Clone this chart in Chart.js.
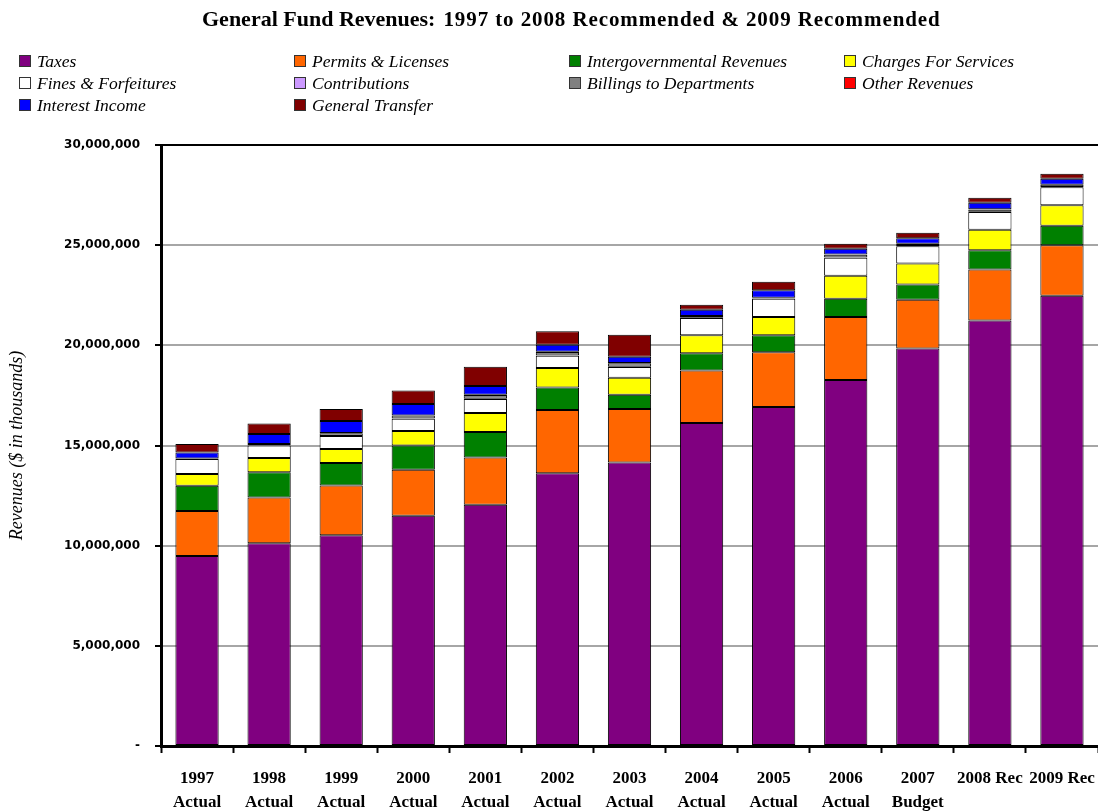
<!DOCTYPE html>
<html>
<head>
<meta charset="utf-8">
<title>General Fund Revenues</title>
<script src="https://cdn.jsdelivr.net/npm/chart.js@4.4.1/dist/chart.umd.min.js"></script>
<style>
  html, body { margin: 0; padding: 0; background: #fff; }
  #wrap { position: relative; width: 1098px; height: 811px; overflow: hidden; }
  #revChart { position: absolute; left: 0; top: 0; }
  #title {
    position: absolute; left: 202px; top: 6px;
    font-family: "Liberation Serif", serif; font-weight: bold; color: #000; white-space: nowrap;
  }
  #title .main { font-size: 22px; }
  #title .sub { font-size: 21px; letter-spacing: 0.9px; margin-left: 8px; }
  #legend {
    position: absolute; left: 19px; top: 50px;
    display: grid; grid-template-columns: 275px 275px 275px 240px; grid-auto-rows: 22px;
    font-family: "Liberation Serif", serif; font-style: italic; font-size: 17.5px; color: #000;
  }
  #legend .item { display: flex; align-items: center; white-space: nowrap; }
  #legend .box { width: 10px; height: 10px; border: 1px solid #333; margin-right: 6px; flex: none; }
</style>
</head>
<body>
<div id="wrap">
  <canvas id="revChart" width="1098" height="811"></canvas>
  <div id="title"><span class="main">General Fund Revenues:</span><span class="sub">1997 to 2008 Recommended &amp; 2009 Recommended</span></div>
  <div id="legend"></div>
</div>
<script>
// fiscal years on the x axis (second line under each year)
const years = [
  ['1997', 'Actual'], ['1998', 'Actual'], ['1999', 'Actual'], ['2000', 'Actual'],
  ['2001', 'Actual'], ['2002', 'Actual'], ['2003', 'Actual'], ['2004', 'Actual'],
  ['2005', 'Actual'], ['2006', 'Actual'], ['2007', 'Budget'], ['2008 Rec', ''], ['2009 Rec', '']
];

// revenues by source, $ in thousands
const taxes         = [9490000, 10120000, 10520000, 11490000, 12040000, 13620000, 14150000, 16120000, 16920000, 18270000, 19840000, 21240000, 22470000];
const permits       = [2240000, 2280000, 2480000, 2300000, 2360000, 3150000, 2670000, 2630000, 2730000, 3150000, 2430000, 2550000, 2520000];
const intergov      = [1260000, 1270000, 1130000, 1210000, 1270000, 1130000, 710000, 850000, 850000, 900000, 770000, 960000, 980000];
const charges       = [590000, 710000, 690000, 720000, 950000, 970000, 850000, 900000, 920000, 1150000, 1050000, 1020000, 1020000];
const fines         = [740000, 620000, 650000, 620000, 700000, 610000, 540000, 870000, 910000, 900000, 860000, 880000, 900000];
const contributions = [5000, 8000, 10000, 12000, 12000, 15000, 15000, 10000, 8000, 12000, 10000, 12000, 10000];
const billings      = [20000, 65000, 130000, 140000, 188000, 175000, 175000, 82000, 35000, 138000, 102000, 118000, 110000];
const otherRev      = [5000, 7000, 10000, 8000, 10000, 10000, 10000, 8000, 7000, 10000, 8000, 10000, 10000];
const interest      = [300000, 490000, 600000, 570000, 440000, 350000, 310000, 300000, 370000, 290000, 280000, 330000, 300000];
const transfer      = [420000, 530000, 600000, 670000, 960000, 670000, 1100000, 250000, 420000, 250000, 270000, 250000, 250000];

const yTicks = [0, 5000000, 10000000, 15000000, 20000000, 25000000, 30000000];

const series = [
  { label: 'Taxes', data: taxes, color: '#800080' },
  { label: 'Permits & Licenses', data: permits, color: '#FF6600' },
  { label: 'Intergovernmental Revenues', data: intergov, color: '#008000' },
  { label: 'Charges For Services', data: charges, color: '#FFFF00' },
  { label: 'Fines & Forfeitures', data: fines, color: '#FFFFFF' },
  { label: 'Contributions', data: contributions, color: '#CC99FF' },
  { label: 'Billings to Departments', data: billings, color: '#808080' },
  { label: 'Other Revenues', data: otherRev, color: '#FF0000' },
  { label: 'Interest Income', data: interest, color: '#0000FF' },
  { label: 'General Transfer', data: transfer, color: '#800000' }
];

// legend in four fixed columns
const legendEl = document.getElementById('legend');
series.forEach(s => {
  const item = document.createElement('div');
  item.className = 'item';
  const box = document.createElement('span');
  box.className = 'box';
  box.style.background = s.color;
  const txt = document.createElement('span');
  txt.textContent = s.label;
  item.appendChild(box);
  item.appendChild(txt);
  legendEl.appendChild(item);
});

const revenueChart = new Chart(document.getElementById('revChart'), {
  type: 'bar',
  data: {
    labels: years,
    datasets: series.map(s => ({
      label: s.label,
      data: s.data,
      backgroundColor: s.color,
      borderColor: '#000',
      borderWidth: 1,
      borderSkipped: false,
      barPercentage: 0.6,
      categoryPercentage: 1.0
    }))
  },
  options: {
    responsive: false,
    animation: false,
    devicePixelRatio: 1,
    layout: { padding: { top: 145, left: 0, right: 0, bottom: 0 } },
    plugins: {
      legend: { display: false },
      title: { display: false },
      tooltip: { enabled: false }
    },
    scales: {
      x: {
        stacked: true,
        // plot runs right up to the canvas edge
        afterFit: (scale) => { scale.height = 65; scale.paddingLeft = 0; scale.paddingRight = 0; },
        border: { display: true, color: '#000', width: 3 },
        grid: {
          offset: true,
          drawOnChartArea: false,
          drawTicks: true,
          tickLength: 7,
          tickColor: '#000',
          tickWidth: 2
        },
        ticks: {
          color: '#000',
          padding: 14,
          maxRotation: 0,
          autoSkip: false,
          font: { family: '"Liberation Serif", serif', weight: 'bold', size: 17, lineHeight: 1.41 }
        }
      },
      y: {
        stacked: true,
        min: 0,
        max: 30000000,
        afterFit: (scale) => { scale.width = 161; },
        afterBuildTicks: (scale) => { scale.ticks = yTicks.map(v => ({ value: v })); },
        border: { display: true, color: '#000', width: 3 },
        grid: {
          color: (ctx) => (ctx.tick && (ctx.tick.value === 30000000 || ctx.tick.value === 0)) ? '#000' : '#a6a6a6',
          lineWidth: 2,
          drawTicks: true,
          tickLength: 6,
          tickColor: '#000',
          tickWidth: 2
        },
        ticks: {
          color: '#000',
          padding: 15,
          font: { family: '"DejaVu Sans", Verdana, sans-serif', weight: 'bold', size: 12 },
          callback: (v) => v === 0 ? '-' : Number(v).toLocaleString('en-US')
        },
        title: {
          display: true,
          text: 'Revenues ($ in thousands)',
          color: '#000',
          padding: { top: 6, bottom: 0 },
          font: { family: '"Liberation Serif", serif', style: 'italic', size: 18 }
        }
      }
    }
  }
});
</script>
</body>
</html>
